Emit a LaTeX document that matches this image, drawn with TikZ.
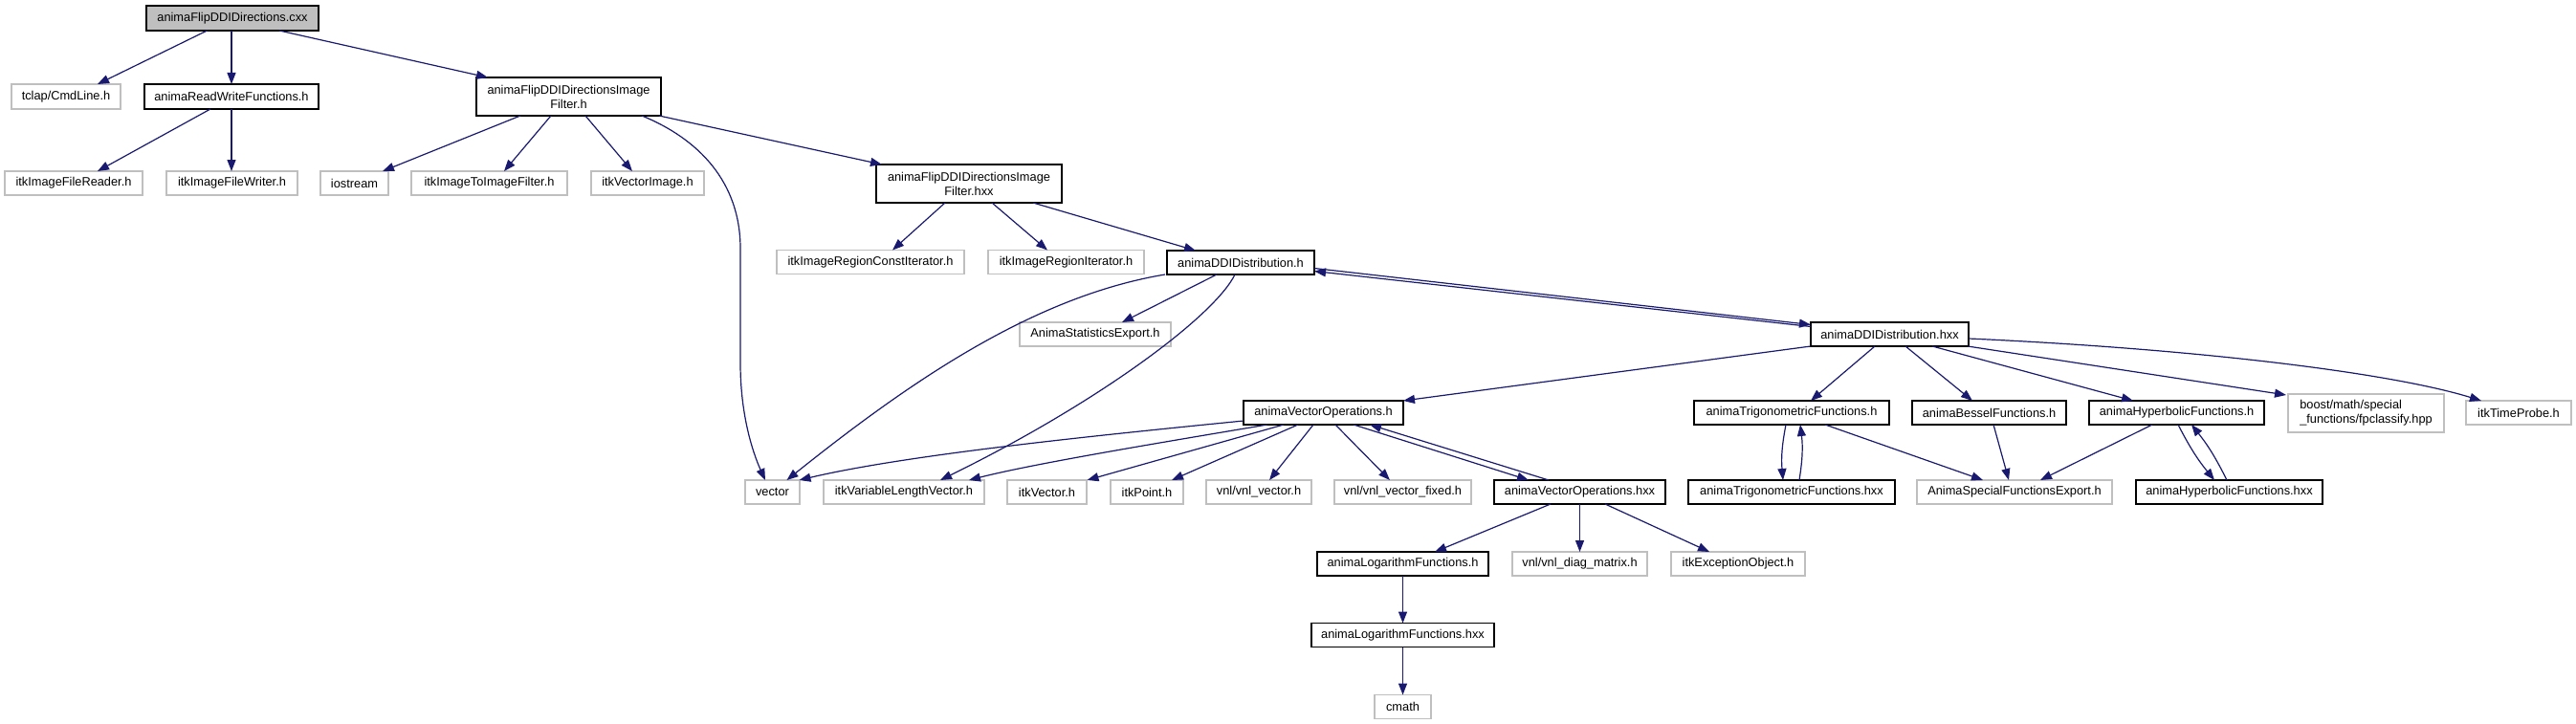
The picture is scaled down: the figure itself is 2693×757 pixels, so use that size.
\documentclass[tikz,border=0pt]{standalone}
\usepackage{fontspec}
\setmainfont{Liberation Sans}
\usetikzlibrary{arrows.meta}
\definecolor{edgecol}{HTML}{191970}
\definecolor{graybd}{HTML}{BFBFBF}
\definecolor{rootfill}{HTML}{BFBFBF}
\begin{document}
\begin{tikzpicture}[x=1pt,y=-1pt,
 every node/.style={font=\fontsize{12.8}{15}\selectfont, inner sep=0pt, outer sep=0pt, minimum height=25pt, align=center},
 bbox/.style={draw=black, line width=1.3pt},
 gbox/.style={draw=graybd, line width=1.3pt},
 rbox/.style={draw=black, fill=rootfill, line width=1.3pt},
 conn/.style={draw=edgecol, line width=1.2pt, -{Triangle[length=12pt,width=9pt]}}
]
\useasboundingbox (0,0) rectangle (2693,757);
% nodes
\node[rbox, minimum width=180pt, minimum height=26pt] (root) at (243,19) {animaFlipDDIDirections.cxx};
\node[gbox, minimum width=114pt, minimum height=26pt] (tclap) at (69,101) {tclap/CmdLine.h};
\node[bbox, minimum width=182pt, minimum height=26pt] (rw) at (242,101) {animaReadWriteFunctions.h};
\node[bbox, minimum width=193pt, minimum height=40pt] (fh) at (594.5,101) {animaFlipDDIDirectionsImage\\Filter.h};
\node[gbox, minimum width=144pt] (reader) at (77,191.5) {itkImageFileReader.h};
\node[gbox, minimum width=137pt] (writer) at (242.5,191.5) {itkImageFileWriter.h};
\node[gbox, minimum width=71pt] (ios) at (370.5,191.5) {iostream};
\node[gbox, minimum width=163pt] (i2i) at (511.5,191.5) {itkImageToImageFilter.h};
\node[gbox, minimum width=118pt] (vimg) at (677,191.5) {itkVectorImage.h};
\node[bbox, minimum width=194pt, minimum height=40pt] (fhxx) at (1013,192) {animaFlipDDIDirectionsImage\\Filter.hxx};
\node[gbox, minimum width=196pt] (rci) at (910,274) {itkImageRegionConstIterator.h};
\node[gbox, minimum width=163pt] (ri) at (1114.5,274) {itkImageRegionIterator.h};
\node[bbox, minimum width=154pt] (ddih) at (1297,274.5) {animaDDIDistribution.h};
\node[gbox, minimum width=158pt] (stat) at (1145,349.5) {AnimaStatisticsExport.h};
\node[bbox, minimum width=165pt] (ddihxx) at (1975.5,349.5) {animaDDIDistribution.hxx};
\node[bbox, minimum width=167pt] (voh) at (1383.5,431.5) {animaVectorOperations.h};
\node[bbox, minimum width=204pt] (trigh) at (1873,431.5) {animaTrigonometricFunctions.h};
\node[bbox, minimum width=161pt] (bessel) at (2079.5,431.5) {animaBesselFunctions.h};
\node[bbox, minimum width=183pt] (hyph) at (2275.5,431.5) {animaHyperbolicFunctions.h};
\node[gbox, minimum width=163pt, minimum height=40pt, align=left] (boost) at (2473.5,432) {boost/math/special\\\_functions/fpclassify.hpp};
\node[gbox, minimum width=110pt] (probe) at (2633,431.5) {itkTimeProbe.h};
\node[gbox, minimum width=57pt] (vec) at (807.5,514.5) {vector};
\node[gbox, minimum width=168pt] (varlen) at (945,514.5) {itkVariableLengthVector.h};
\node[gbox, minimum width=83pt] (itkvec) at (1094.5,514.5) {itkVector.h};
\node[gbox, minimum width=76pt] (itkpt) at (1199,514.5) {itkPoint.h};
\node[gbox, minimum width=110pt] (vnlv) at (1316,514.5) {vnl/vnl\_vector.h};
\node[gbox, minimum width=143pt] (vnlf) at (1466.5,514.5) {vnl/vnl\_vector\_fixed.h};
\node[bbox, minimum width=179pt] (vohxx) at (1651.5,514.5) {animaVectorOperations.hxx};
\node[bbox, minimum width=216pt] (trighxx) at (1873,514.5) {animaTrigonometricFunctions.hxx};
\node[gbox, minimum width=204pt] (spec) at (2106,514.5) {AnimaSpecialFunctionsExport.h};
\node[bbox, minimum width=195pt] (hyphxx) at (2330.5,514.5) {animaHyperbolicFunctions.hxx};
\node[bbox, minimum width=179pt] (logh) at (1466.5,589.5) {animaLogarithmFunctions.h};
\node[gbox, minimum width=141pt] (diag) at (1651.5,589.5) {vnl/vnl\_diag\_matrix.h};
\node[gbox, minimum width=140pt] (exc) at (1817,589.5) {itkExceptionObject.h};
\node[bbox, minimum width=191pt] (loghxx) at (1466.5,664) {animaLogarithmFunctions.hxx};
\node[gbox, minimum width=59pt] (cmath) at (1466.5,739) {cmath};
% edges
\draw[conn] ([xshift=-26.5pt]root.south) -- ([xshift=33pt]tclap.north);
\draw[conn] ([xshift=-1pt]root.south) -- (rw.north);
\draw[conn] ([xshift=49pt]root.south) -- ([xshift=-84.5pt]fh.north);
\draw[conn] ([xshift=-22pt]rw.south) -- ([xshift=25pt]reader.north);
\draw[conn] (rw.south) -- ([xshift=-0.5pt]writer.north);
\draw[conn] ([xshift=-50.5pt]fh.south) -- ([xshift=29.5pt]ios.north);
\draw[conn] ([xshift=-18.5pt]fh.south) -- ([xshift=15.5pt]i2i.north);
\draw[conn] ([xshift=17.5pt]fh.south) -- ([xshift=-16pt]vimg.north);
\draw[conn] ([xshift=76.5pt]fh.south) .. controls (730,145) and (774,190) .. (774,260) -- (774,380) .. controls (774,440) and (790,480) .. ([xshift=-7.5pt]vec.north);
\draw[conn] ([xshift=-2pt]fh.south east) -- ([xshift=6pt]fhxx.north west);
\draw[conn] ([xshift=-25pt]fhxx.south) -- ([xshift=23pt]rci.north);
\draw[conn] ([xshift=24pt]fhxx.south) -- ([xshift=-19.5pt]ri.north);
\draw[conn] ([xshift=67pt]fhxx.south) -- ([xshift=-47pt]ddih.north);
\draw[conn] ([xshift=-2pt]ddih.south west) .. controls (1080,310) and (950,400) .. ([xshift=15pt]vec.north);
\draw[conn] ([xshift=-25pt]ddih.south) -- ([xshift=28pt]stat.north);
\draw[conn] ([xshift=-6pt]ddih.south) .. controls (1270,330) and (1150,420) .. ([xshift=38pt]varlen.north);
\draw[conn] ([yshift=-6pt]ddih.east) -- ([yshift=10pt]ddihxx.west);
\draw[conn] ([yshift=8pt]ddihxx.west) -- ([yshift=-9pt]ddih.east);
\draw[conn] (ddihxx.south west) -- (voh.north east);
\draw[conn] ([xshift=-15.5pt]ddihxx.south) -- ([xshift=20pt]trigh.north);
\draw[conn] ([xshift=16.5pt]ddihxx.south) -- ([xshift=-17.5pt]bessel.north);
\draw[conn] ([xshift=44.5pt]ddihxx.south) -- ([xshift=-45.5pt]hyph.north);
\draw[conn] ([xshift=-1pt]ddihxx.south east) -- ([xshift=-2pt,yshift=-1pt]boost.north west);
\draw[conn] ([yshift=-4.5pt]ddihxx.east) .. controls (2300,365) and (2500,390) .. ([xshift=-39pt]probe.north);
\draw[conn] ([yshift=-8.5pt]voh.west) .. controls (1150,455) and (950,475) .. ([xshift=-0.5pt]vec.north east);
\draw[conn] ([xshift=-58.5pt]voh.south) .. controls (1200,465) and (1080,485) .. ([xshift=68pt]varlen.north);
\draw[conn] ([xshift=-41.5pt]voh.south) -- ([xshift=42pt]itkvec.north);
\draw[conn] ([xshift=-26.5pt]voh.south) -- ([xshift=26pt]itkpt.north);
\draw[conn] ([xshift=-10.5pt]voh.south) -- ([xshift=11pt]vnlv.north);
\draw[conn] ([xshift=12.5pt]voh.south) -- ([xshift=-13.5pt]vnlf.north);
\draw[conn] ([xshift=31.5pt]voh.south) -- ([xshift=-53.5pt]vohxx.north);
\draw[conn] ([xshift=-32.5pt]vohxx.north) -- ([xshift=48.5pt]voh.south);
\draw[conn] ([xshift=-30.5pt]vohxx.south) -- ([xshift=33.5pt]logh.north);
\draw[conn] (vohxx.south) -- (diag.north);
\draw[conn] ([xshift=26.5pt]vohxx.south) -- ([xshift=-30pt]exc.north);
\draw[conn] (logh.south) -- (loghxx.north);
\draw[conn] (loghxx.south) -- (cmath.north);
\draw[conn] ([xshift=-6pt]trigh.south) to[bend right=8] ([xshift=-9pt]trighxx.north);
\draw[conn] ([xshift=8pt]trighxx.north) to[bend right=8] ([xshift=9pt]trigh.south);
\draw[conn] ([xshift=35pt]trigh.south) -- ([xshift=-33pt]spec.north);
\draw[conn] ([xshift=4.5pt]bessel.south) -- ([xshift=-6pt]spec.north);
\draw[conn] ([xshift=-25.5pt]hyph.south) -- ([xshift=27pt]spec.north);
\draw[conn] ([xshift=1.5pt]hyph.south) to[bend right=6] ([xshift=-15.5pt]hyphxx.north);
\draw[conn] ([xshift=-2.5pt]hyphxx.north) to[bend right=6] ([xshift=15.5pt]hyph.south);
\end{tikzpicture}
\end{document}
